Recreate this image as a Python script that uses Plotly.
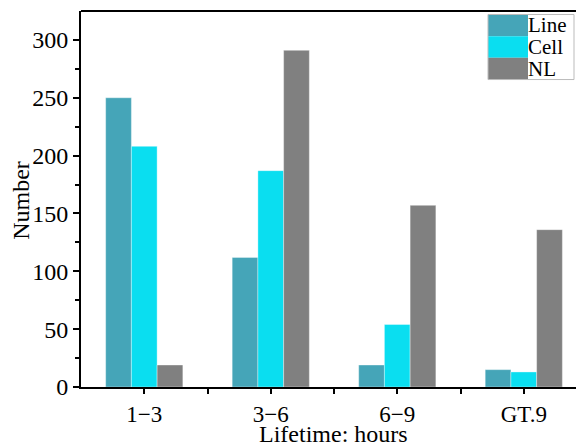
import plotly.graph_objects as go

categories = ["1\u22123", "3\u22126", "6\u22129", "GT.9"]
series_names = ["Line", "Cell", "NL"]
line_vals = [250, 112, 19, 15]
cell_vals = [208, 187, 54, 13]
nl_vals = [19, 291, 157, 136]
colors = ["#45A5B8", "#0ADEF0", "#808080"]
y_ticks = [0, 50, 100, 150, 200, 250, 300]

x_idx = list(range(len(categories)))
FONT = "Liberation Serif, Times New Roman, serif"

OFF = 8  # default page body margin
W, H = 584 - OFF, 448 - OFF
# plot area in window pixels
WL, WT, WB, WR = 81, 11, 387.3, 584
L, T = WL - OFF, WT - OFF
B = H - (WB - OFF)
R = 0
PW, PH = W - L - R, H - T - B

def px(xw):
    return (xw - WL) / PW

def py(yw):
    return (WB - yw) / PH

fig = go.Figure()
for name, vals, c in zip(series_names, [line_vals, cell_vals, nl_vals], colors):
    fig.add_trace(go.Bar(x=x_idx, y=vals, name=name, marker_color=c,
                         marker_line=dict(width=0.6, color="rgba(255,255,255,0.6)"),
                         showlegend=False))

fig.update_layout(
    width=W, height=H,
    margin=dict(l=L, r=R, t=T, b=B),
    paper_bgcolor="white", plot_bgcolor="white",
    barmode="group", bargap=0.39, bargroupgap=0,
    font=dict(family=FONT, size=24, color="black"),
)
fig.update_xaxes(
    range=[-0.5, 3.476], tickvals=x_idx, ticktext=categories, automargin=False,
    showline=True, linecolor="black", linewidth=2, mirror=False,
    ticks="outside", ticklen=5, tickwidth=2, tickcolor="black",
    minor=dict(tickvals=[0.5, 1.5, 2.5], ticks="outside", ticklen=5, tickwidth=2, tickcolor="black"),
    showgrid=False, zeroline=False,
    tickfont=dict(size=23),
)
fig.update_yaxes(
    range=[0, 325], tickvals=y_ticks, automargin=False,
    showline=True, linecolor="black", linewidth=2, mirror=False,
    ticks="outside", ticklen=6, tickwidth=2, tickcolor="black",
    minor=dict(tickvals=[25, 75, 125, 175, 225, 275], ticks="outside", ticklen=4, tickwidth=2, tickcolor="black"),
    showgrid=False, zeroline=False,
    tickfont=dict(size=24),
)
# axis titles
fig.add_annotation(xref="paper", yref="paper", x=px(333), y=py(448), yshift=-1,
                   text="Lifetime: hours", showarrow=False, xanchor="center", yanchor="bottom",
                   font=dict(size=24, family=FONT))
fig.add_annotation(xref="paper", yref="paper", x=px(21), y=py(201),
                   text="Number", showarrow=False, textangle=-90, xanchor="center", yanchor="middle",
                   font=dict(size=24, family=FONT))
# top border line
fig.add_shape(type="line", xref="paper", yref="paper", x0=0, x1=1, y0=1, y1=1,
              line=dict(color="black", width=2))

# custom legend (wide swatches)
x0, x1, x2 = px(488), px(528), px(574)
row = 21.7
ytop = 14.5
for i, (name, c) in enumerate(zip(series_names, colors)):
    ya, yb = ytop + i * row, ytop + (i + 1) * row
    fig.add_shape(type="rect", xref="paper", yref="paper", x0=x0, x1=x1, y0=py(yb), y1=py(ya),
                  fillcolor=c, line=dict(width=0))
    fig.add_annotation(xref="paper", yref="paper", x=x1 - 0.003, y=py((ya + yb) / 2),
                       text=name, showarrow=False, xanchor="left", yanchor="middle",
                       font=dict(size=21, family=FONT, color="black"))
fig.add_shape(type="rect", xref="paper", yref="paper", x0=x0, x1=x2,
              y0=py(ytop + 3 * row), y1=py(ytop), line=dict(color="#BBBBBB", width=1))

fig.write_html("out.html")
